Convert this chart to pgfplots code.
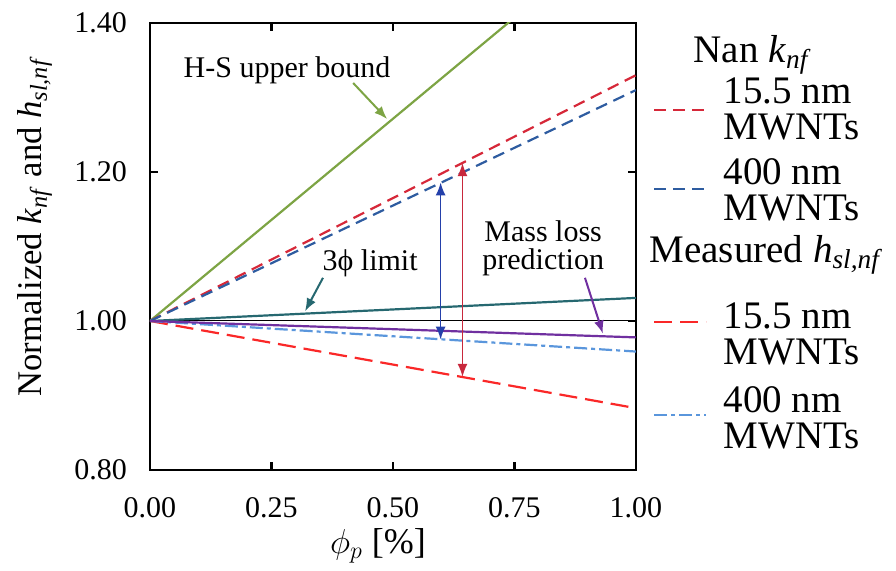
\documentclass[border=0pt]{standalone}
\usepackage{fontspec}
\setmainfont{Liberation Serif}
\usepackage{pgfplots}
\pgfplotsset{compat=1.18}
\usetikzlibrary{arrows.meta}
\definecolor{hsgreen}{RGB}{125,164,68}
\definecolor{nanred}{RGB}{214,40,57}
\definecolor{nanblue}{RGB}{46,92,160}
\definecolor{measred}{RGB}{250,40,40}
\definecolor{measblue}{RGB}{90,150,220}
\definecolor{tealc}{RGB}{38,104,112}
\definecolor{purplec}{RGB}{112,48,160}
\definecolor{arrblue}{RGB}{36,64,170}
\definecolor{arrred}{RGB}{200,40,60}
\begin{document}
\begin{tikzpicture}
\begin{axis}[
  name=ax,
  scale only axis, width=243pt, height=223.5pt,
  xmin=0, xmax=1, ymin=0.8, ymax=1.4,
  xtick={0,0.25,0.5,0.75,1}, ytick={0.8,1.0,1.2,1.4},
  tick align=inside, major tick length=4pt,
  axis line style={line width=1.1pt},
  every tick/.style={black, line width=1.1pt},
  /pgf/number format/.cd, fixed, fixed zerofill, precision=2, assume math mode=true, /pgfplots/.cd,
  tick label style={font=\fontsize{15}{17}\selectfont},
  yticklabel style={xshift=-8pt},
  xticklabel style={yshift=-10pt},
  xlabel={$\phi_p$ [\%]},
  ylabel={Normalized \textit{k}\textsubscript{\textit{nf}} and \textit{h}\textsubscript{\textit{sl,nf}}},
  xlabel style={font=\fontsize{18}{20}\selectfont, at={(axis description cs:0.469,-0.170)}, anchor=center},
  ylabel style={font=\fontsize{17.3}{20}\selectfont, at={(axis description cs:-0.237,0.545)}, anchor=center},
  no markers,
  legend image code/.code={\draw[#1] (0pt,0pt) -- (26pt,0pt);},
  legend style={at={(axis description cs:1,1)}, anchor=north west, xshift=8.5pt, yshift=-4pt,
    draw=none, fill=none, inner sep=0pt, row sep=2pt, column sep=6pt,
    font=\fontsize{19.5}{18}\selectfont,
    cells={anchor=west, align=left}},
]
\addplot[black, line width=0.5pt, forget plot] coordinates {(0,1) (1,1)};
\addplot[hsgreen, line width=1.1pt, forget plot] coordinates {(0,1) (1,1.543)};
\addlegendimage{empty legend}
\addlegendentry{\hspace*{-15pt}Nan \textit{k}\textsubscript{\textit{nf}}\rule[-18pt]{0pt}{13pt}}
\addplot[nanred, line width=1.1pt, dash pattern=on 6pt off 3.5pt] coordinates {(0,1) (1,1.330)};
\addlegendentry{15.5 nm\\MWNTs}
\addplot[nanblue, line width=1.1pt, dash pattern=on 6pt off 3.5pt] coordinates {(0,1) (1,1.310)};
\addlegendentry{\rule{0pt}{15pt}400 nm\\MWNTs}
\addlegendimage{empty legend}
\addlegendentry{\hspace*{-37pt}Measured \textit{h}\textsubscript{\textit{sl,nf}}\rule[-22pt]{0pt}{17pt}}
\addplot[measred, line width=1.1pt, dash pattern=on 9pt off 4pt] coordinates {(0,1) (1,0.883)};
\addlegendentry{\rule{0pt}{25.5pt}15.5 nm\\MWNTs}
\addplot[measblue, line width=1.1pt, dash pattern=on 6.5pt off 2pt on 2pt off 2pt] coordinates {(0,1) (1,0.959)};
\addlegendentry{\rule{0pt}{16.5pt}400 nm\\MWNTs}
\addplot[tealc, line width=1.1pt, forget plot] coordinates {(0,1) (1,1.031)};
\addplot[purplec, line width=1.1pt, forget plot] coordinates {(0,1) (1,0.978)};
% annotation arrows
\addplot[arrblue, line width=0.8pt, {Latex[length=6.5pt,width=5pt]}-{Latex[length=6.5pt,width=5pt]}, forget plot] coordinates {(0.598,1.186) (0.598,0.975)};
\addplot[arrred, line width=0.8pt, {Latex[length=6.5pt,width=5pt]}-{Latex[length=6.5pt,width=5pt]}, forget plot] coordinates {(0.643,1.212) (0.643,0.925)};
\addplot[hsgreen, line width=1pt, -{Latex[length=6.5pt,width=5pt]}, forget plot] coordinates {(0.418,1.3195) (0.488,1.271)};
\addplot[tealc, line width=1pt, -{Latex[length=6.5pt,width=5pt]}, forget plot] coordinates {(0.356,1.058) (0.319,1.013)};
\addplot[purplec, line width=1pt, -{Latex[length=6.5pt,width=5pt]}, forget plot] coordinates {(0.895,1.058) (0.932,0.983)};
\node[font=\fontsize{15}{12.5}\selectfont] at (axis cs:0.282,1.337) {H-S upper bound};
\node[font=\fontsize{15}{12.5}\selectfont] at (axis cs:0.453,1.078) {3ϕ limit};
\node[font=\fontsize{15}{14}\selectfont, align=center] at (axis cs:0.809,1.097) {Mass loss\\prediction};
\coordinate (bl) at (rel axis cs:0,0);
\end{axis}
\path (bl) ++(-75pt,-48.5pt) rectangle ++(448pt,283.5pt);
\end{tikzpicture}
\end{document}
